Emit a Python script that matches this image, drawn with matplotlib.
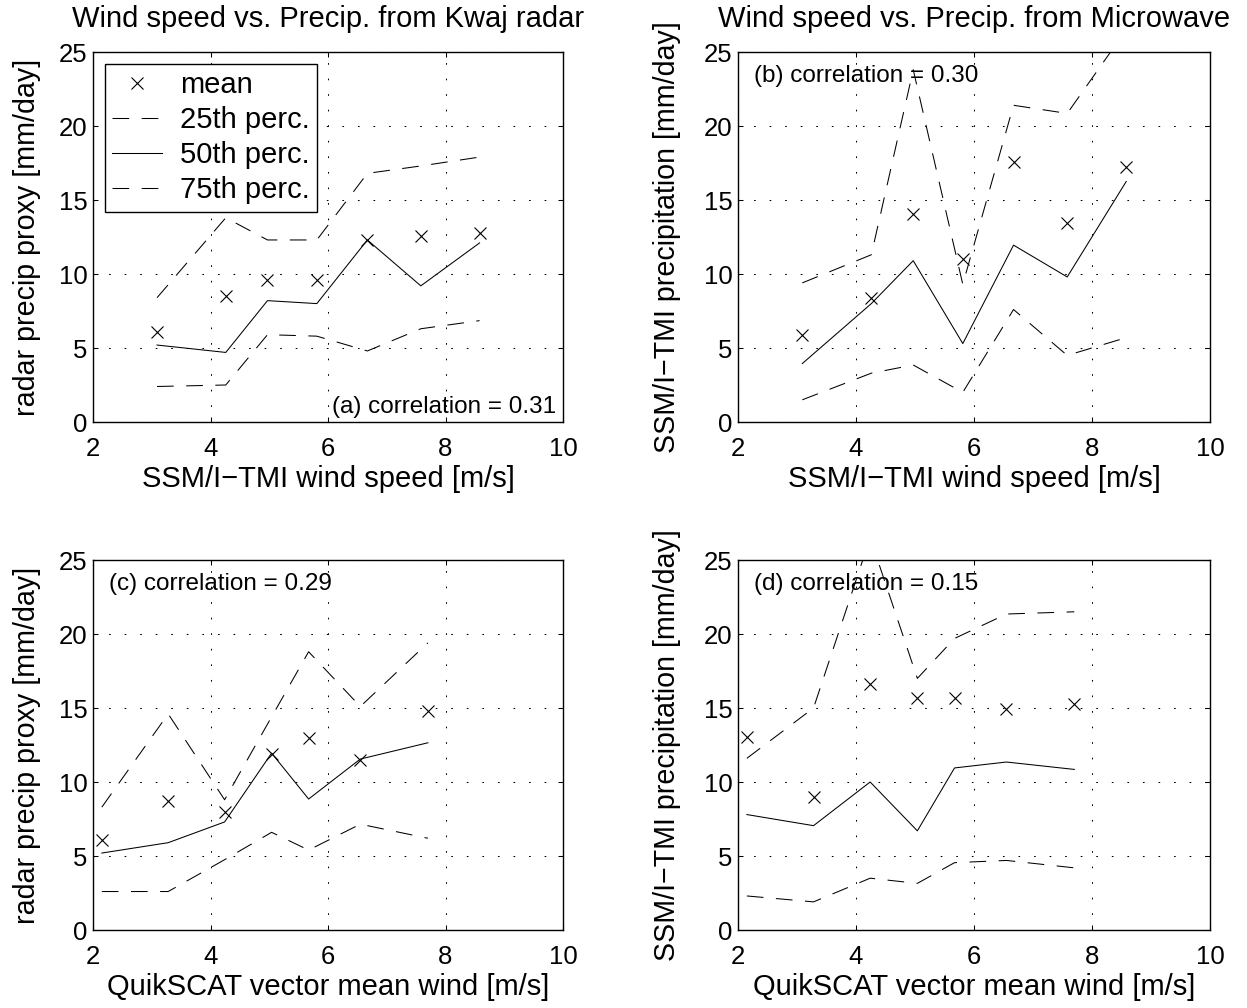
import numpy as np
import matplotlib
matplotlib.use('Agg')
import matplotlib.pyplot as plt

plt.rcParams['font.family']       = ['Liberation Sans', 'DejaVu Sans']
plt.rcParams['font.size']         = 18.5
plt.rcParams['xtick.direction']   = 'in'
plt.rcParams['ytick.direction']   = 'in'
plt.rcParams['xtick.top']         = True
plt.rcParams['ytick.right']       = True
plt.rcParams['xtick.major.size']  = 3.4
plt.rcParams['ytick.major.size']  = 3.4
plt.rcParams['xtick.major.width'] = 0.75
plt.rcParams['ytick.major.width'] = 0.75
plt.rcParams['axes.linewidth']    = 1.0
plt.rcParams['lines.scale_dashes'] = False

# wind speed bins (SSM/I-TMI and QuikSCAT)
x_ssmi = [3.09, 4.26, 4.97, 5.81, 6.67, 7.58, 8.58]
x_qscat = [2.15, 3.28, 4.24, 5.04, 5.67, 6.55, 7.70]

# (a) radar precip vs SSM/I-TMI wind
a_mean = [6.1, 8.5, 9.6, 9.6, 12.3, 12.6, 12.8]
a_p25  = [2.4, 2.5, 5.9, 5.8, 4.8, 6.3, 6.85]
a_p50  = [5.2, 4.7, 8.2, 8.0, 12.3, 9.2, 12.1]
a_p75  = [8.4, 13.8, 12.3, 12.3, 16.8, 17.3, 17.9]

# (b) microwave precip vs SSM/I-TMI wind
b_mean = [5.9, 8.35, 14.05, 11.0, 17.55, 13.45, 17.2]
b_p25  = [1.5, 3.3, 3.85, 2.0, 7.6, 4.5, 5.7]
b_p50  = [3.95, 8.0, 10.9, 5.3, 11.95, 9.8, 16.25]
b_p75  = [9.4, 11.3, 23.8, 9.3, 21.4, 20.85, 26.5]

# (c) radar precip vs QuikSCAT wind
c_mean = [6.1, 8.7, 8.0, 11.9, 12.95, 11.5, 14.8]
c_p25  = [2.6, 2.6, 4.75, 6.6, 5.4, 7.15, 6.2]
c_p50  = [5.2, 5.9, 7.3, 11.95, 8.85, 11.55, 12.65]
c_p75  = [8.3, 14.6, 8.8, 14.4, 18.8, 15.1, 19.4]

# (d) microwave precip vs QuikSCAT wind
d_mean = [13.05, 9.0, 16.6, 15.65, 15.65, 14.9, 15.3]
d_p25  = [2.3, 1.9, 3.5, 3.15, 4.55, 4.7, 4.2]
d_p50  = [7.8, 7.05, 10.0, 6.7, 10.95, 11.35, 10.85]
d_p75  = [11.6, 15.0, 26.5, 17.0, 19.7, 21.35, 21.5]

titles = ['Wind speed vs. Precip. from Kwaj radar', 'Wind speed vs. Precip. from Microwave', None, None]
xlabels = ['SSM/I\u2212TMI wind speed [m/s]', 'SSM/I\u2212TMI wind speed [m/s]',
           'QuikSCAT vector mean wind [m/s]', 'QuikSCAT vector mean wind [m/s]']
ylabels = ['radar precip proxy [mm/day]', 'SSM/I\u2212TMI precipitation [mm/day]',
           'radar precip proxy [mm/day]', 'SSM/I\u2212TMI precipitation [mm/day]']
corr_txt = ['(a) correlation = 0.31', '(b) correlation = 0.30',
            '(c) correlation = 0.29', '(d) correlation = 0.15']
legend_labels = ['mean', '25th perc.', '50th perc.', '75th perc.']

panels = [(x_ssmi, a_mean, a_p25, a_p50, a_p75),
          (x_ssmi, b_mean, b_p25, b_p50, b_p75),
          (x_qscat, c_mean, c_p25, c_p50, c_p75),
          (x_qscat, d_mean, d_p25, d_p50, d_p75)]

W, H = 1247, 1008
fig = plt.figure(figsize=(W/100, H/100), dpi=100)
boxes = [(93, 52, 470, 370), (738, 52, 472, 370), (93, 560, 470, 370), (738, 560, 472, 370)]

LAB = 21
DASH = (12, 9)
for i, (l, t, w, h) in enumerate(boxes):
    ax = fig.add_axes([l/W, (H-t-h)/H, w/W, h/H])
    x, mean, p25, p50, p75 = panels[i]
    ax.plot(x, mean, 'x', color='k', ms=8, mew=0.8, label=legend_labels[0])
    ax.plot(x, p25, color='k', lw=0.75, dashes=DASH, label=legend_labels[1])
    ax.plot(x, p50, color='k', lw=0.75, label=legend_labels[2])
    ax.plot(x, p75, color='k', lw=0.75, dashes=DASH, label=legend_labels[3])

    ax.set_xlim(2, 10)
    ax.set_ylim(0, 25)
    ax.set_xticks([2, 4, 6, 8, 10])
    ax.set_yticks([0, 5, 10, 15, 20, 25])
    ax.tick_params(axis='x', pad=11)
    ax.tick_params(axis='y', pad=4)
    ax.grid(True, color='k', lw=0.75, linestyle=(0, (1.2, 10)))

    ax.set_xlabel(xlabels[i], fontsize=LAB)
    ax.xaxis.set_label_coords(0.5, -0.115)
    ax.set_ylabel(ylabels[i], fontsize=20.6)
    ax.yaxis.set_label_coords(-0.11 if i % 2 == 0 else -0.12, 0.5)
    if titles[i]:
        ax.set_title(titles[i], fontsize=LAB, pad=18)

    if i == 0:
        ax.text(0.985, 0.011, corr_txt[i], transform=ax.transAxes,
                ha='right', va='bottom', fontsize=17.5)
        leg = ax.legend(loc='upper left', frameon=True, fancybox=False, edgecolor='k',
                        framealpha=1, handlelength=1.71, handletextpad=0.62,
                        labelspacing=0.24, borderpad=0.25, borderaxespad=0.41,
                        fontsize=LAB)
        leg.get_frame().set_linewidth(1.0)
    else:
        ax.text(0.033, 0.965, corr_txt[i], transform=ax.transAxes,
                ha='left', va='top', fontsize=17.5)

fig.savefig('out.png', dpi=100)
